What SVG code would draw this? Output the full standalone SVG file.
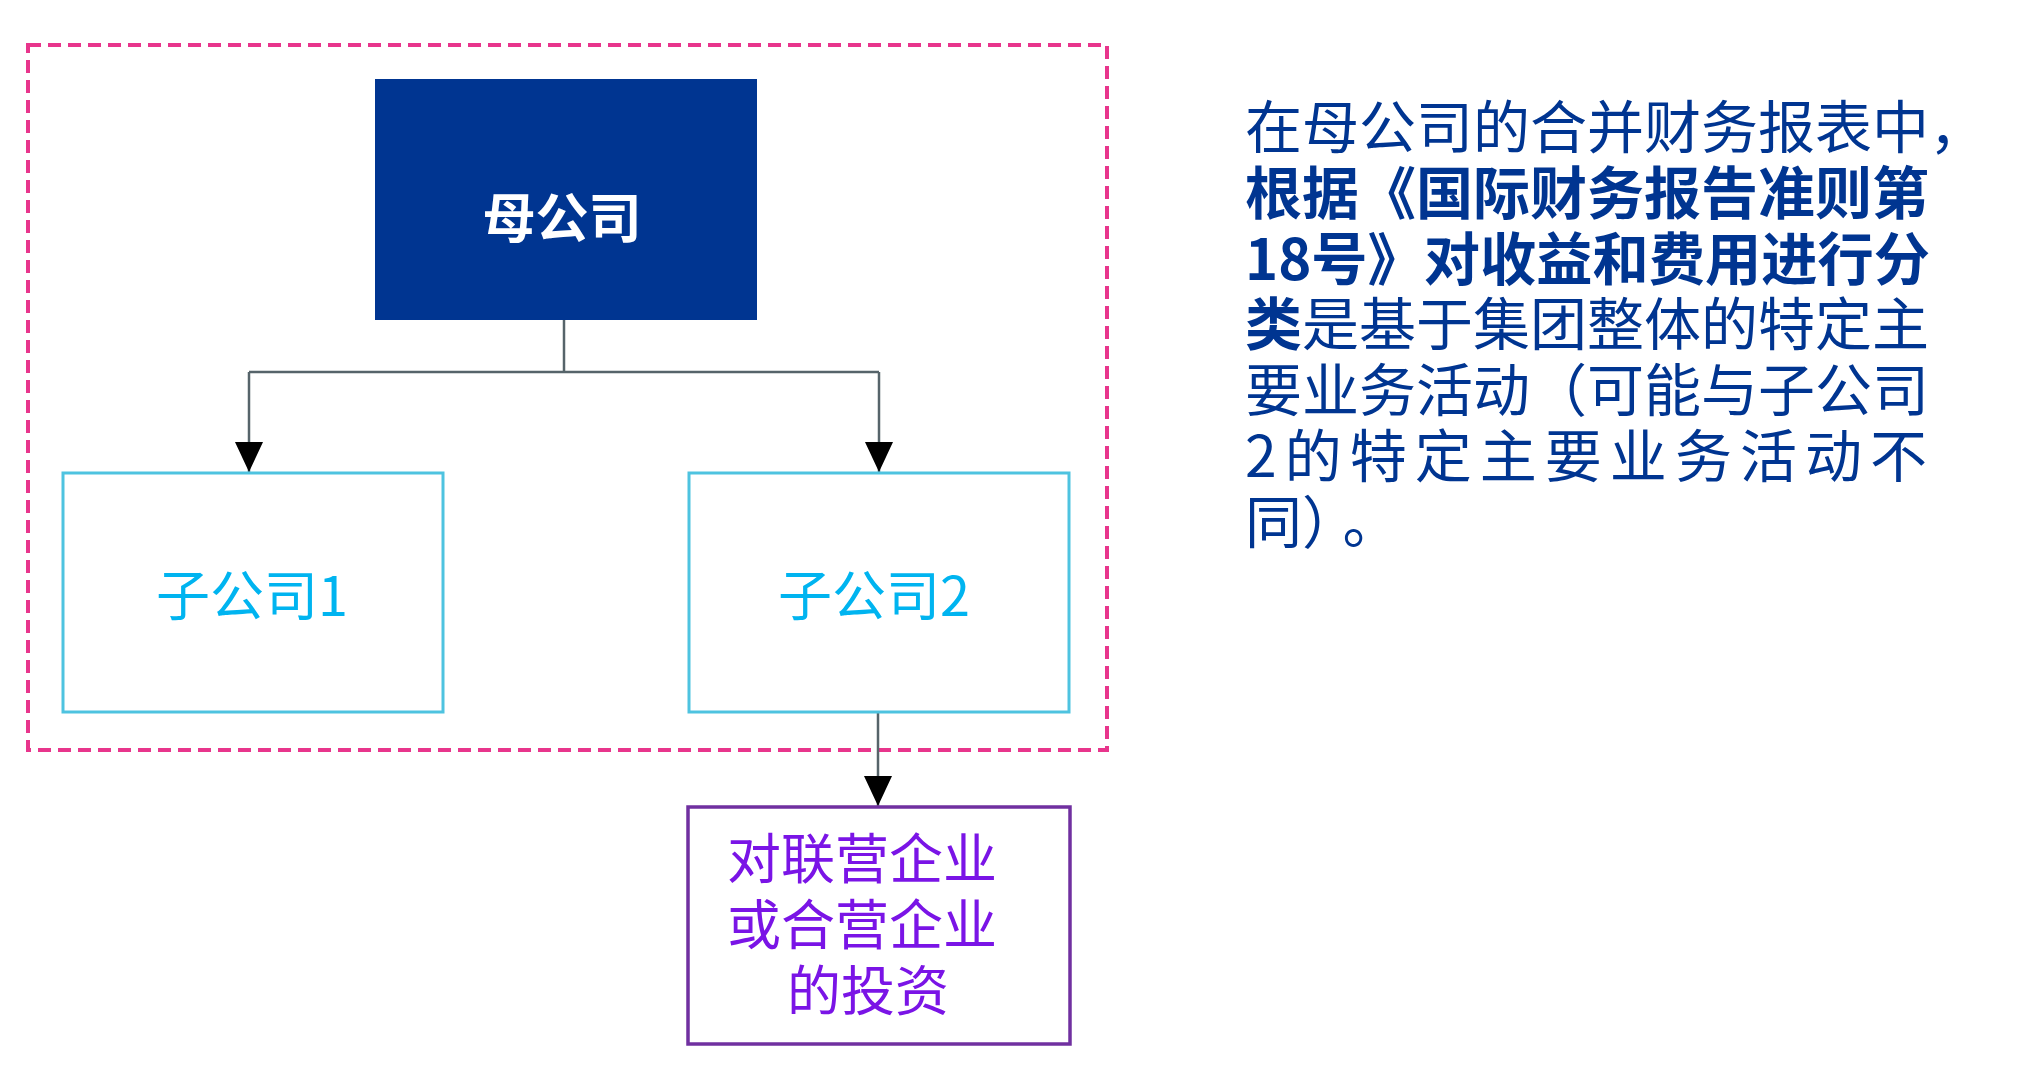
<svg xmlns="http://www.w3.org/2000/svg" width="2020" height="1088" viewBox="0 0 2020 1088">
<style>
.cjk{font-family:"Noto Sans CJK SC","Noto Sans",sans-serif}
.conn{fill:none;stroke:#56646a;stroke-width:2.5}
.sub{fill:#ffffff;stroke:#4ec3e0;stroke-width:3}
.subt{fill:#00b4f0;font-size:54px;text-anchor:middle}
.para{fill:#003591;font-size:57px}
.b{font-weight:bold}
</style>
<defs>
<marker id="ah" markerUnits="userSpaceOnUse" markerWidth="30" markerHeight="30" viewBox="0 0 30 30" refX="30" refY="15" orient="auto">
<path d="M0,1 L30,15 L0,29 Z" fill="#000"/>
</marker>
</defs>
<rect width="2020" height="1088" fill="#fff"/>
<g id="group-boundary">
<rect x="28" y="45" width="1079" height="705" fill="none" stroke="#e8358c" stroke-width="4" stroke-dasharray="13 7"/>
</g>
<g id="connectors">
<path class="conn" d="M564,320 V372"/>
<path class="conn" d="M249,372 H879"/>
<path class="conn" d="M249,372 V472" marker-end="url(#ah)"/>
<path class="conn" d="M879,372 V472" marker-end="url(#ah)"/>
<path class="conn" d="M878,712 V806" marker-end="url(#ah)"/>
</g>
<g id="parent">
<rect x="375" y="79" width="382" height="241" fill="#003591"/>
<text class="cjk b" x="562" y="238" font-size="53" fill="#fff" text-anchor="middle">母公司</text>
</g>
<g id="sub1">
<rect class="sub" x="63" y="473" width="380" height="239"/>
<text class="cjk subt" x="252" y="616">子公司1</text>
</g>
<g id="sub2">
<rect class="sub" x="689" y="473" width="380" height="239"/>
<text class="cjk subt" x="874" y="616">子公司2</text>
</g>
<g id="investment">
<rect x="688" y="807" width="382" height="237" fill="#fff" stroke="#7030a0" stroke-width="3.5"/>
<text class="cjk" font-size="54" fill="#7a14e6" text-anchor="middle">
<tspan x="868" y="879">对联营企业</tspan>
<tspan x="868" y="945">或合营企业</tspan>
<tspan x="868" y="1011">的投资</tspan>
</text>
</g>
<g id="description">
<text class="cjk para" x="1245" y="148">在母公司的合并财务报表中，</text>
<text class="cjk para b" x="1245" y="214">根据《国际财务报告准则第</text>
<text class="cjk para b" x="1245" y="280" textLength="685" lengthAdjust="spacingAndGlyphs">18号》对收益和费用进行分</text>
<text class="cjk para" x="1245" y="345"><tspan class="b">类</tspan>是基于集团整体的特定主</text>
<text class="cjk para" x="1245" y="411">要业务活动（可能与子公司</text>
<text class="cjk para" x="1245" y="477" textLength="682" lengthAdjust="spacing">2的特定主要业务活动不</text>
<text class="cjk para" x="1245" y="543">同）<tspan dx="12">。</tspan></text>
</g>
</svg>
